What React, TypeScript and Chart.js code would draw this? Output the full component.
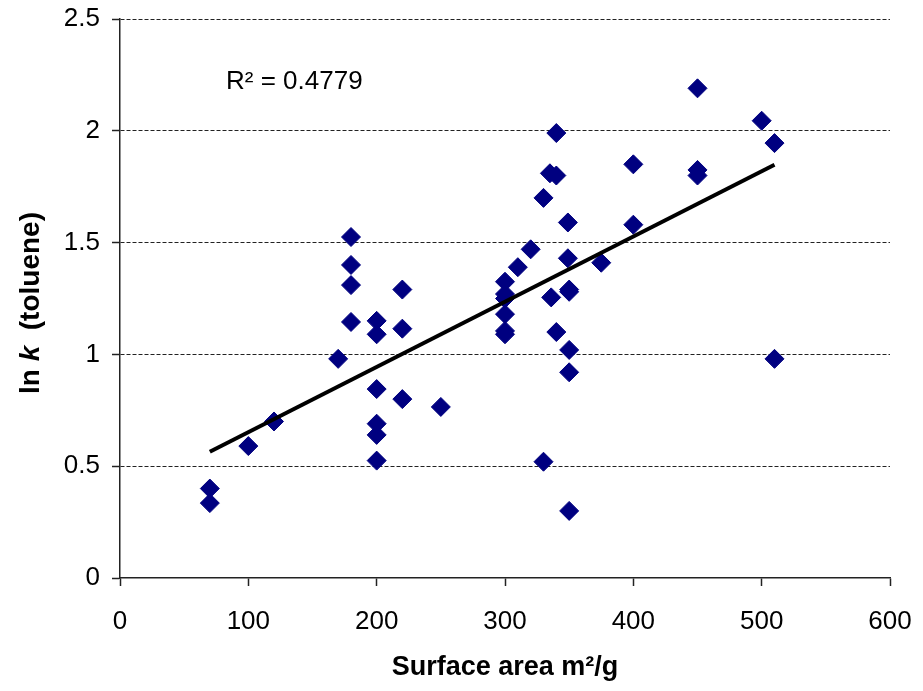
import React, { useEffect, useRef } from "react";
import { Chart, registerables } from "chart.js";

Chart.register(...registerables);

const surfaceArea = [
  70, 70, 100, 120, 170, 180, 180, 180, 180, 200, 200, 200, 200, 200, 200, 220, 220, 220, 250,
  300, 300, 300, 300, 300, 300, 310, 320, 330, 335, 340, 340, 349, 349, 336, 350, 350, 340, 350,
  350, 330, 350, 375, 400, 400, 450, 450, 450, 500, 510, 510,
];
const lnK = [
  0.4, 0.335, 0.59, 0.7, 0.98, 1.525, 1.4, 1.31, 1.145, 1.15, 1.09, 0.845, 0.69, 0.64, 0.525, 1.29,
  1.115, 0.8, 0.765, 1.325, 1.27, 1.25, 1.18, 1.105, 1.09, 1.39, 1.47, 1.7, 1.81, 1.8, 1.99, 1.59,
  1.43, 1.255, 1.29, 1.28, 1.1, 1.02, 0.92, 0.52, 0.3, 1.41, 1.58, 1.85, 2.19, 1.825, 1.8, 2.045,
  1.945, 0.98,
];
const trendX = [70, 510];
const trendY = [0.565, 1.848];
const xTicks = [0, 100, 200, 300, 400, 500, 600];
const yTicks = [0, 0.5, 1, 1.5, 2, 2.5];
const rSquaredText = "R² = 0.4779";
const xTitle = "Surface area m²/g";

export default function App() {
  const ref = useRef<HTMLCanvasElement | null>(null);
  useEffect(() => {
    document.body.style.margin = "0";
    const canvas = ref.current;
    if (!canvas) return;
    const font = "'Liberation Sans', Arial, sans-serif";
    const titles = {
      id: "titles",
      afterDraw(chart: any) {
        const c = chart.ctx;
        c.save();
        c.fillStyle = "#000";
        c.font = `26px ${font}`;
        c.textAlign = "left";
        c.textBaseline = "middle";
        c.fillText(rSquaredText, 226, 82);
        c.font = `bold 27px ${font}`;
        c.textAlign = "center";
        c.fillText(xTitle, 505, 668);
        c.translate(31, 303);
        c.rotate(-Math.PI / 2);
        const parts: [string, string][] = [
          ["ln ", `bold 28px ${font}`],
          ["k", `italic bold 28px ${font}`],
          ["  (toluene)", `bold 28px ${font}`],
        ];
        let total = 0;
        for (const [t, f] of parts) {
          c.font = f;
          total += c.measureText(t).width;
        }
        let x = -total / 2;
        c.textAlign = "left";
        for (const [t, f] of parts) {
          c.font = f;
          c.fillText(t, x, 0);
          x += c.measureText(t).width;
        }
        c.restore();
      },
    };
    const zeroPad = (s: any) => {
      s.paddingTop = 0;
      s.paddingBottom = 0;
      s.paddingLeft = 0;
      s.paddingRight = 0;
    };
    const chart = new Chart(canvas, {
      type: "scatter",
      data: {
        datasets: [
          {
            data: surfaceArea.map((x, i) => ({ x, y: lnK[i] })),
            pointStyle: "rectRot",
            pointRadius: 9.5,
            backgroundColor: "#000080",
            borderColor: "#000080",
            borderWidth: 1,
            order: 1,
          },
          {
            type: "line",
            data: trendX.map((x, i) => ({ x, y: trendY[i] })),
            borderColor: "#000",
            borderWidth: 4,
            pointRadius: 0,
            showLine: true,
            fill: false,
            order: 0,
          } as any,
        ],
      },
      options: {
        responsive: false,
        animation: false,
        events: [],
        layout: { padding: { left: 0, right: 33, top: 19, bottom: 0 } },
        plugins: { legend: { display: false }, tooltip: { enabled: false }, title: { display: false } },
        scales: {
          x: {
            type: "linear",
            min: 0,
            max: 600,
            afterFit: (s: any) => {
              s.height = 113;
              zeroPad(s);
            },
            afterBuildTicks: (s: any) => {
              s.ticks = xTicks.map((v) => ({ value: v }));
            },
            ticks: {
              color: "#000",
              font: { family: font, size: 26 },
              padding: 20,
              maxRotation: 0,
              callback: (v: any) => String(v),
            },
            grid: {
              drawOnChartArea: false,
              drawTicks: true,
              tickLength: 8,
              tickColor: "#222",
              tickWidth: 1.5,
            },
            border: { display: true, color: "#222", width: 1.5 },
          },
          y: {
            type: "linear",
            min: 0,
            max: 2.5,
            afterFit: (s: any) => {
              s.width = 120;
              zeroPad(s);
            },
            afterBuildTicks: (s: any) => {
              s.ticks = yTicks.map((v) => ({ value: v }));
            },
            ticks: {
              color: "#000",
              font: { family: font, size: 26 },
              padding: 12,
              callback: (v: any) => String(v),
            },
            grid: {
              color: (ctx: any) => (ctx.tick && ctx.tick.value === 0 ? "rgba(0,0,0,0)" : "#222"),
              lineWidth: 1,
              drawTicks: true,
              tickLength: 8,
              tickColor: "#222",
              tickWidth: 1.5,
            },
            border: { display: true, color: "#222", width: 1.5, dash: [4, 2] },
          },
        },
      },
      plugins: [titles],
    });
    return () => chart.destroy();
  }, []);
  return (
    <div style={{ width: 923, height: 691, background: "#fff" }}>
      <canvas ref={ref} width={923} height={691} style={{ display: "block" }} />
    </div>
  );
}
